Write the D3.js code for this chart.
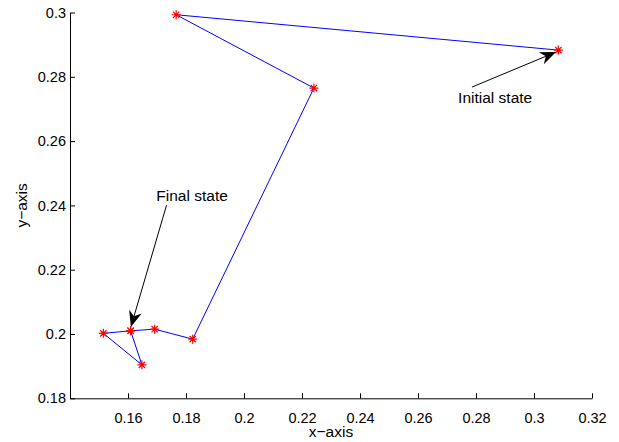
<!DOCTYPE html>
<html>
<head>
<meta charset="utf-8">
<script src="https://cdn.jsdelivr.net/npm/d3@7"></script>
<style>
  body { margin: 0; background: #fff; }
  text { font-family: "Liberation Sans", Arial, sans-serif; }
</style>
</head>
<body>
<div id="chart"></div>
<script>
// trajectory of the state, in visiting order
let xValues = [0.3084, 0.1766, 0.2241, 0.1823, 0.1692, 0.1609, 0.1515, 0.1648, 0.1609];
let yValues = [0.2883, 0.2993, 0.2765, 0.1984, 0.2015, 0.2010, 0.2002, 0.1904, 0.2010];

let xTicks = [0.14, 0.16, 0.18, 0.2, 0.22, 0.24, 0.26, 0.28, 0.3, 0.32];
let xTickLabels = ['', '0.16', '0.18', '0.2', '0.22', '0.24', '0.26', '0.28', '0.3', '0.32'];
let yTicks = [0.18, 0.2, 0.22, 0.24, 0.26, 0.28, 0.3];
let yTickLabels = ['0.18', '0.2', '0.22', '0.24', '0.26', '0.28', '0.3'];

// annotations: text, text anchor point, arrow tail, arrow tip (data units)
let noteText = ['Initial state', 'Final state'];
let noteTextX = [0.2866, 0.1821];
let noteTextY = [0.2734, 0.2432];
let noteTailX = [0.2786, 0.1733];
let noteTailY = [0.2768, 0.2401];
let noteTipX = [0.3076, 0.1610];
let noteTipY = [0.2877, 0.2022];

let width = 619;
let height = 442;

let x = d3.scaleLinear().domain([0.14, 0.32]).range([70, 592]);
let y = d3.scaleLinear().domain([0.18, 0.3]).range([398.3, 12.5]);

let svg = d3.select('#chart')
  .append('svg')
  .attr('width', width)
  .attr('height', height);

// axes, ticks pointing inward
let xAxis = d3.axisTop(x)
  .tickValues(xTicks)
  .tickSize(5)
  .tickSizeOuter(0)
  .tickFormat(function(d, i) { return xTickLabels[i]; });

let yAxis = d3.axisRight(y)
  .tickValues(yTicks)
  .tickSize(5)
  .tickSizeOuter(0)
  .tickFormat(function(d, i) { return yTickLabels[i]; });

let gx = svg.append('g')
  .attr('transform', 'translate(0,' + y(0.18) + ')')
  .call(xAxis);
gx.selectAll('text')
  .attr('y', 14)
  .attr('dy', '0.71em')
  .style('font-size', '14.5px')
  .attr('fill', '#000');

let gy = svg.append('g')
  .attr('transform', 'translate(' + x(0.14) + ',0)')
  .call(yAxis);
gy.selectAll('text')
  .attr('x', -4)
  .attr('text-anchor', 'end')
  .style('font-size', '14.5px')
  .attr('fill', '#000');

svg.selectAll('.domain, .tick line').attr('stroke', '#000');

// axis titles
svg.append('text')
  .attr('x', x(0.23))
  .attr('y', 437)
  .attr('text-anchor', 'middle')
  .style('font-size', '15.5px')
  .text('x\u2212axis');

svg.append('text')
  .attr('transform', 'translate(27,' + y(0.24) + ') rotate(-90)')
  .attr('text-anchor', 'middle')
  .style('font-size', '15.5px')
  .text('y\u2212axis');

// trajectory line
let pts = xValues.map(function(v, i) { return [v, yValues[i]]; });

let line = d3.line()
  .x(function(d) { return x(d[0]); })
  .y(function(d) { return y(d[1]); });

svg.append('path')
  .datum(pts)
  .attr('d', line)
  .attr('fill', 'none')
  .attr('stroke', '#0000ff')
  .attr('stroke-width', 1);

// asterisk markers
let r = 4.5;
let star = 'M' + (-r) + ',0L' + r + ',0M0,' + (-r) + 'L0,' + r +
  'M' + (-r * 0.7) + ',' + (-r * 0.7) + 'L' + (r * 0.7) + ',' + (r * 0.7) +
  'M' + (-r * 0.7) + ',' + (r * 0.7) + 'L' + (r * 0.7) + ',' + (-r * 0.7);

svg.selectAll('.marker')
  .data(pts)
  .enter()
  .append('path')
  .attr('class', 'marker')
  .attr('d', star)
  .attr('transform', function(d) { return 'translate(' + x(d[0]) + ',' + y(d[1]) + ')'; })
  .attr('fill', 'none')
  .attr('stroke', '#ff0000')
  .attr('stroke-width', 1.2);

// annotations
noteText.forEach(function(t, i) {
  let x0 = x(noteTailX[i]), y0 = y(noteTailY[i]);
  let x1 = x(noteTipX[i]), y1 = y(noteTipY[i]);
  let ang = Math.atan2(y1 - y0, x1 - x0);
  let len = 16, half = 6.5, back = 11;
  let bx = x1 - back * Math.cos(ang), by = y1 - back * Math.sin(ang);

  svg.append('line')
    .attr('x1', x0).attr('y1', y0)
    .attr('x2', bx).attr('y2', by)
    .attr('stroke', '#000')
    .attr('stroke-width', 1);

  let head = d3.path();
  head.moveTo(x1, y1);
  head.lineTo(x1 - len * Math.cos(ang) - half * Math.sin(ang), y1 - len * Math.sin(ang) + half * Math.cos(ang));
  head.lineTo(bx, by);
  head.lineTo(x1 - len * Math.cos(ang) + half * Math.sin(ang), y1 - len * Math.sin(ang) - half * Math.cos(ang));
  head.closePath();
  svg.append('path')
    .attr('d', head.toString())
    .attr('fill', '#000');

  svg.append('text')
    .attr('x', x(noteTextX[i]))
    .attr('y', y(noteTextY[i]))
    .attr('dy', '0.35em')
    .attr('text-anchor', 'middle')
    .style('font-size', '15.5px')
    .text(t);
});
</script>
</body>
</html>
